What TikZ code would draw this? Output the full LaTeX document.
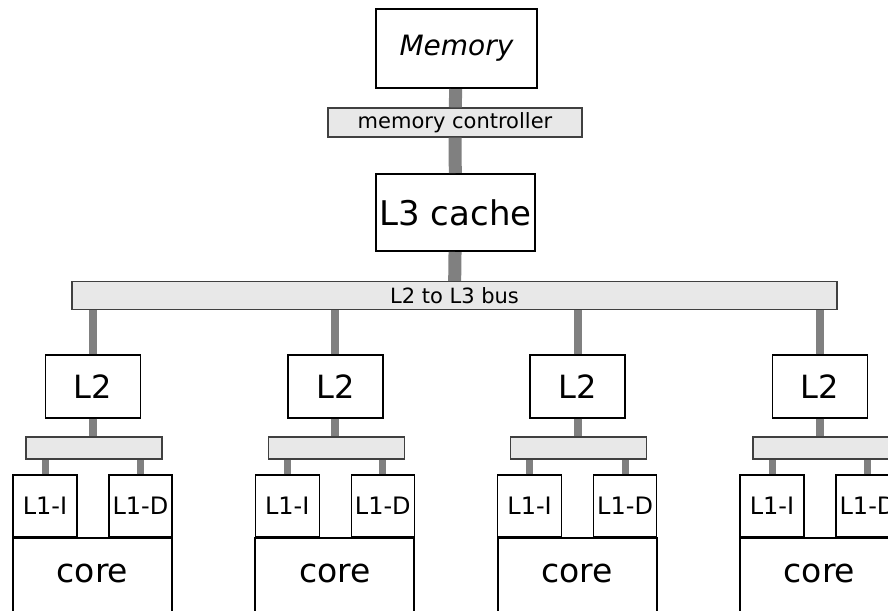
\documentclass[tikz,border=0pt]{standalone}
\usepackage{fontspec}
\setmainfont{DejaVu Sans}
\newcommand{\fs}[1]{\fontsize{#1}{#1}\selectfont}
\begin{document}
\begin{tikzpicture}[x=1pt,y=-1pt,
		unit/.style={rectangle,draw,line width=1.4pt,inner sep=0pt,align=center},
		bar/.style={rectangle,draw=black!75,fill=black!9,line width=1.3pt,inner sep=0pt},
		link/.style={draw=black!50,line width=13pt},
		buslink/.style={draw=black!50,line width=8pt}]
	\useasboundingbox (0,0) rectangle (888,610);
	\clip (0,0) rectangle (888,610);
	% top of the hierarchy
	\node[unit,line width=2.2pt,minimum width=161pt,minimum height=79pt] (memory) at (456.5,48.5) {\fs{28}\itshape Memory};
	\node[bar,minimum width=254pt,minimum height=29pt] (ctrl) at (455,122.5) {\fs{21}memory controller};
	\node[unit,line width=2pt,minimum width=159pt,minimum height=77pt] (l3) at (455.5,212.5) {\fs{34}L3 cache};
	\node[bar,minimum width=765pt,minimum height=28pt] (bus) at (454.5,295.5) {\fs{21}L2 to L3 bus};
	\path[link] (memory) -- (ctrl);
	\path[link] (ctrl) -- (l3);
	\path[link] (l3) -- (bus);
	% one group per core
	\foreach \i/\g in {1/0,2/242.3,3/484.6,4/727}{
		\node[unit,minimum width=95pt,minimum height=63pt] (l2\i) at (93+\g,386.5) {\fs{32}L2};
		\node[bar,minimum width=136pt,minimum height=22pt] (sbar\i) at (94+\g,448) {};
		\node[unit,line width=1.2pt,minimum width=64pt,minimum height=62pt] (l1i\i) at (45+\g,506) {\fs{24}L1-I};
		\node[unit,line width=1.2pt,minimum width=63pt,minimum height=62pt] (l1d\i) at (140.5+\g,506) {\fs{24}L1-D};
		\node[unit,line width=2pt,minimum width=159pt,minimum height=100pt,anchor=north] (core\i) at (92.5+\g,537) {};
		\node at (92.5+\g,573) {\fs{33}core};
		\path[buslink] (l2\i.north) -- (l2\i.north |- bus.south);
		\path[buslink] (l2\i.south) -- (l2\i.south |- sbar\i.north);
		\path[buslink,line width=7pt] (l1i\i.north) -- (l1i\i.north |- sbar\i.south);
		\path[buslink,line width=7pt] (l1d\i.north) -- (l1d\i.north |- sbar\i.south);
	}
\end{tikzpicture}
\end{document}
